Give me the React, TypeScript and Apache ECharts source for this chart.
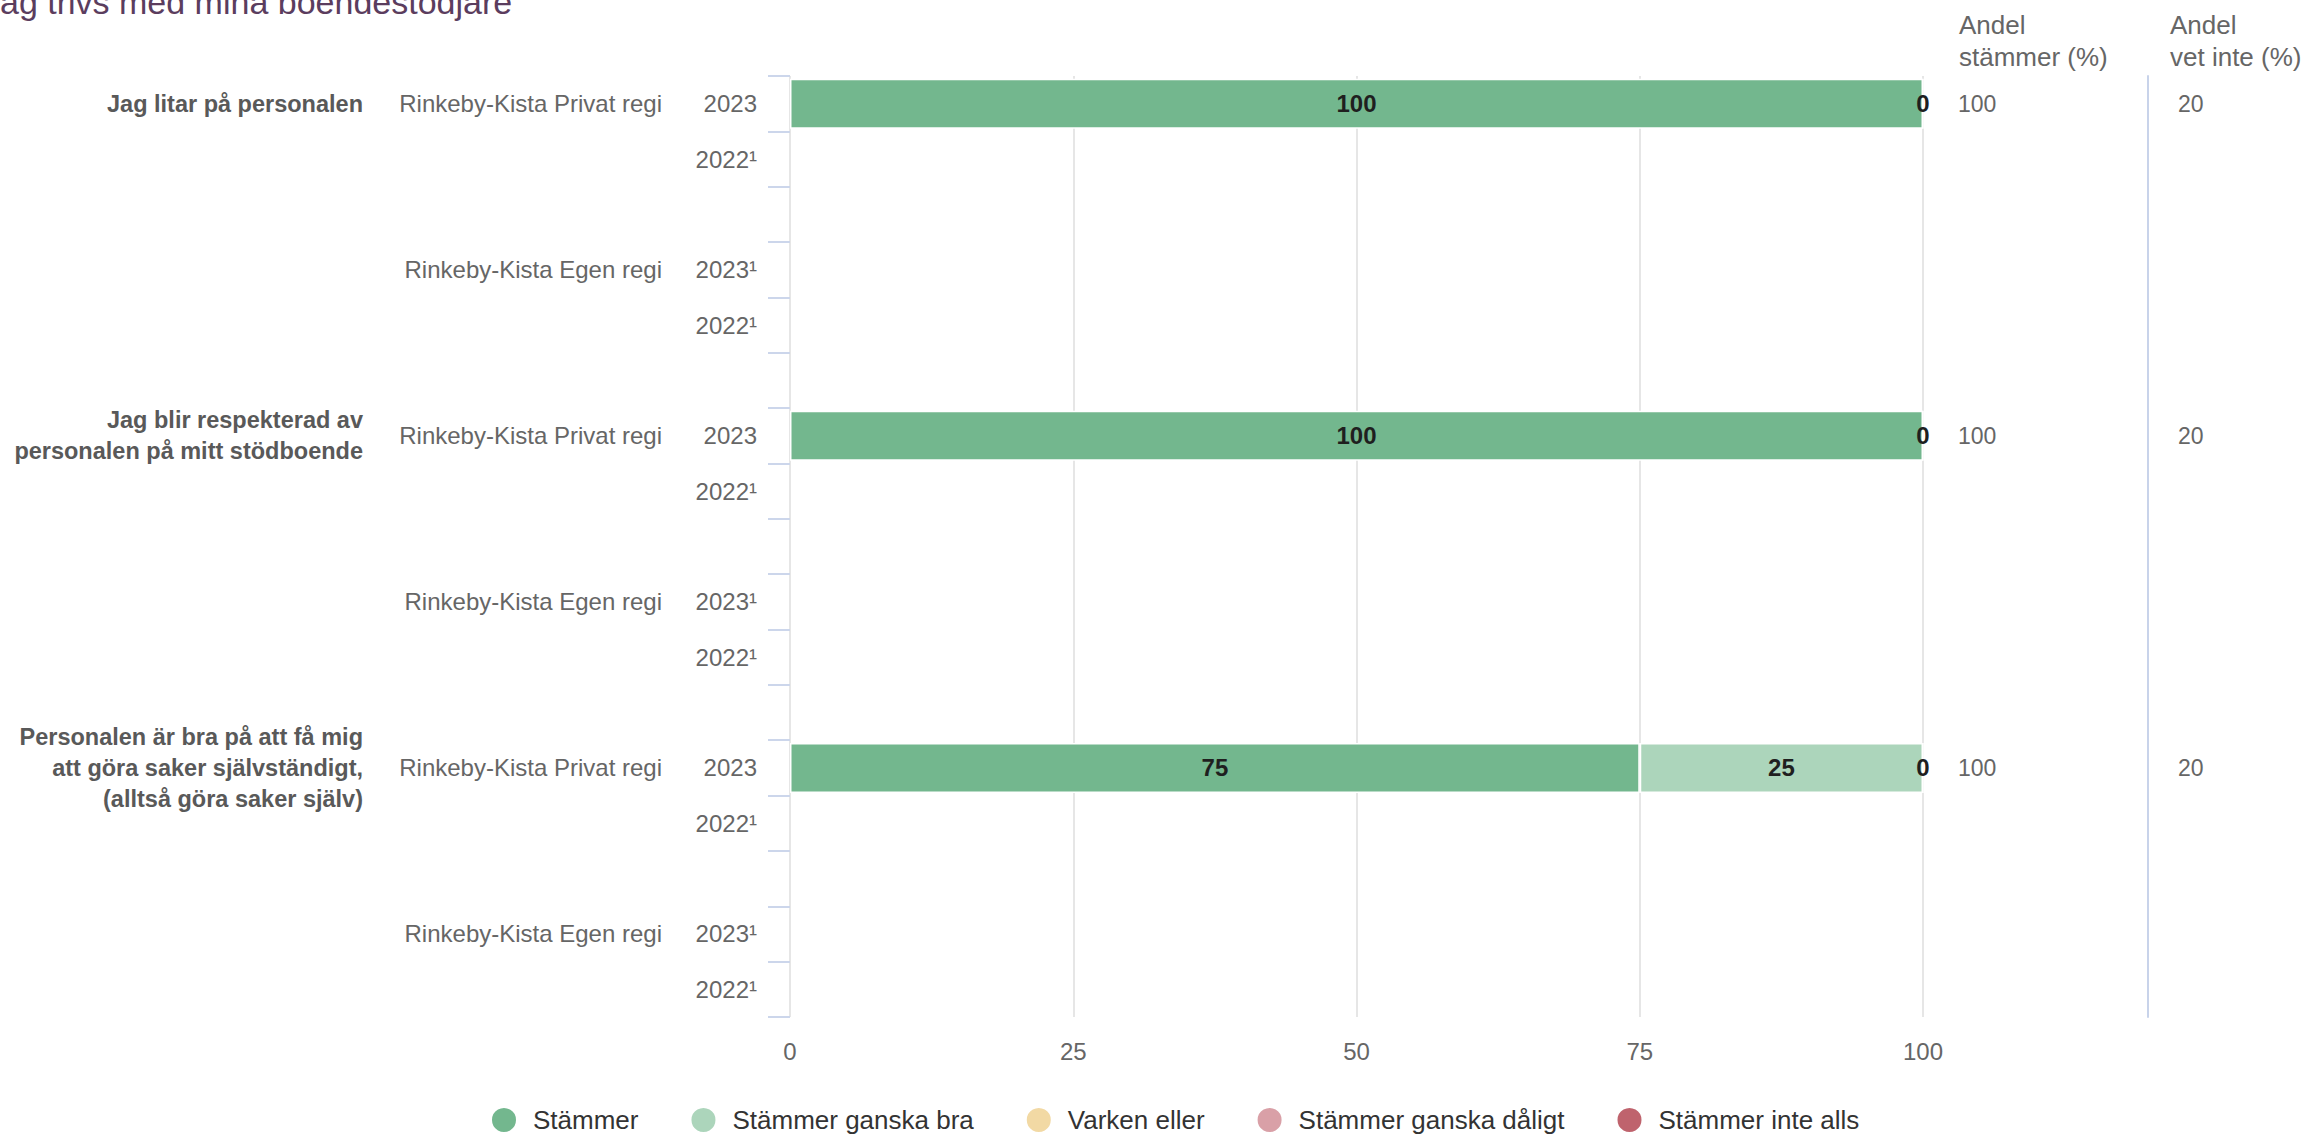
import React, { useEffect, useRef } from "react";
import * as echarts from "echarts";

const FONT = '"Liberation Sans", Arial, Helvetica, sans-serif';

const titleText = "Jag trivs med mina boendestödjare";
const seriesNames = ["Stämmer", "Stämmer ganska bra", "Varken eller", "Stämmer ganska dåligt", "Stämmer inte alls"];
const seriesColors = ["#73b78e", "#acd5bb", "#f2d9a4", "#d9a0a7", "#bf636d"];

const questionLabels = [
  "Jag litar på personalen", "", "", "", "", "",
  "Jag blir respekterad av\npersonalen på mitt stödboende", "", "", "", "", "",
  "Personalen är bra på att få mig\natt göra saker självständigt,\n(alltså göra saker själv)", "", "", "", "",
];
const unitLabels = [
  "Rinkeby-Kista Privat regi", "", "", "Rinkeby-Kista Egen regi", "", "",
  "Rinkeby-Kista Privat regi", "", "", "Rinkeby-Kista Egen regi", "", "",
  "Rinkeby-Kista Privat regi", "", "", "Rinkeby-Kista Egen regi", "",
];
const yearLabels = [
  "2023", "2022¹", "", "2023¹", "2022¹", "",
  "2023", "2022¹", "", "2023¹", "2022¹", "",
  "2023", "2022¹", "", "2023¹", "2022¹",
];

const stammer = [100, null, null, null, null, null, 100, null, null, null, null, null, 75, null, null, null, null];
const ganskaBra = [null, null, null, null, null, null, null, null, null, null, null, null, 25, null, null, null, null];
const varkenEller = [0, null, null, null, null, null, 0, null, null, null, null, null, 0, null, null, null, null];
const ganskaDaligt = [null, null, null, null, null, null, null, null, null, null, null, null, null, null, null, null, null];
const inteAlls = [null, null, null, null, null, null, null, null, null, null, null, null, null, null, null, null, null];

const andelStammer = ["100", "", "", "", "", "", "100", "", "", "", "", "", "100", "", "", "", ""];
const andelVetInte = ["20", "", "", "", "", "", "20", "", "", "", "", "", "20", "", "", "", ""];

const xTicks = { min: 0, max: 100, interval: 25 };

export default function App() {
  const ref = useRef<HTMLDivElement>(null);
  useEffect(() => {
    if (!ref.current) return;
    const chart = echarts.init(ref.current, undefined, { renderer: "svg" });
    const rowIds = yearLabels.map((_, i) => "r" + i);
    const idx = (v: string) => parseInt(v.slice(1), 10);
    const baseCat = {
      type: "category",
      data: rowIds,
      inverse: true,
      axisLine: { show: false },
      axisTick: { show: false },
      splitLine: { show: false },
    };
    const allSeries = [stammer, ganskaBra, varkenEller, ganskaDaligt, inteAlls];
    const option: any = {
      animation: false,
      backgroundColor: "#ffffff",
      textStyle: { fontFamily: FONT },
      color: seriesColors,
      grid: { left: 790, right: 384, top: 76, bottom: 117, containLabel: false },
      xAxis: {
        type: "value",
        min: xTicks.min,
        max: xTicks.max,
        interval: xTicks.interval,
        axisLine: { show: false },
        axisTick: { show: false },
        splitLine: { show: true, lineStyle: { color: "#e6e6e6", width: 2 } },
        axisLabel: { color: "#666666", fontSize: 24, margin: 22, fontFamily: FONT },
      },
      yAxis: [
        {
          ...baseCat,
          position: "left",
          axisTick: { show: true, length: 22, lineStyle: { color: "#ccd6eb", width: 2 } },
          axisLabel: {
            interval: 0, margin: 33, color: "#666666", fontSize: 24, fontFamily: FONT,
            formatter: (v: string) => yearLabels[idx(v)],
          },
        },
        {
          ...baseCat,
          position: "left",
          axisLabel: {
            interval: 0, margin: 128, color: "#666666", fontSize: 24, fontFamily: FONT,
            formatter: (v: string) => unitLabels[idx(v)],
          },
        },
        {
          ...baseCat,
          position: "left",
          axisLabel: {
            interval: 0, margin: 427, color: "#595959", fontSize: 23.5, fontWeight: "bold",
            lineHeight: 31, align: "right", fontFamily: FONT,
            formatter: (v: string) => questionLabels[idx(v)],
          },
        },
        {
          ...baseCat,
          position: "right",
          axisLabel: {
            interval: 0, margin: 35, color: "#666666", fontSize: 23, fontFamily: FONT,
            formatter: (v: string) => andelStammer[idx(v)],
          },
        },
        {
          ...baseCat,
          position: "right",
          offset: 225,
          axisLine: { show: true, lineStyle: { color: "#c8d3ea", width: 2 } },
          axisLabel: {
            interval: 0, margin: 30, color: "#666666", fontSize: 23, fontFamily: FONT,
            formatter: (v: string) => andelVetInte[idx(v)],
          },
        },
      ],
      legend: {
        left: 485,
        top: 1101,
        itemWidth: 26,
        itemHeight: 26,
        itemGap: 51,
        icon: "circle",
        data: seriesNames,
        textStyle: { fontSize: 26, color: "#333333", fontFamily: FONT, padding: [0, 0, 0, 11] },
      },
      series: allSeries.map((data, i) => ({
        name: seriesNames[i],
        type: "bar",
        stack: "total",
        yAxisIndex: 0,
        barWidth: 50,
        data,
        itemStyle: { color: seriesColors[i], borderColor: "#ffffff", borderWidth: 1.5 },
        label: {
          show: i < 3,
          position: "inside",
          color: "#1f1f1f",
          fontSize: 24,
          fontWeight: "bold",
          fontFamily: FONT,
          formatter: (p: any) => (p.value === null || p.value === undefined ? "" : String(p.value)),
        },
      })),
      graphic: [
        {
          type: "text",
          x: -17,
          y: 2,
          style: {
            text: titleText,
            fontSize: 34,
            fontFamily: FONT,
            fill: "#5b3d5e",
            verticalAlign: "middle",
            align: "left",
          },
        },
        {
          type: "text",
          x: 1959,
          y: 41,
          style: {
            text: "Andel\nstämmer (%)",
            fontSize: 26,
            lineHeight: 32,
            fontFamily: FONT,
            fill: "#666666",
            verticalAlign: "middle",
            align: "left",
          },
        },
        {
          type: "text",
          x: 2170,
          y: 41,
          style: {
            text: "Andel\nvet inte (%)",
            fontSize: 26,
            lineHeight: 32,
            fontFamily: FONT,
            fill: "#666666",
            verticalAlign: "middle",
            align: "left",
          },
        },
      ],
    };
    chart.setOption(option);
    return () => chart.dispose();
  }, []);
  return (
    <div
      ref={ref}
      style={{ position: "fixed", left: 0, top: 0, width: 2307, height: 1134, background: "#ffffff" }}
    />
  );
}
